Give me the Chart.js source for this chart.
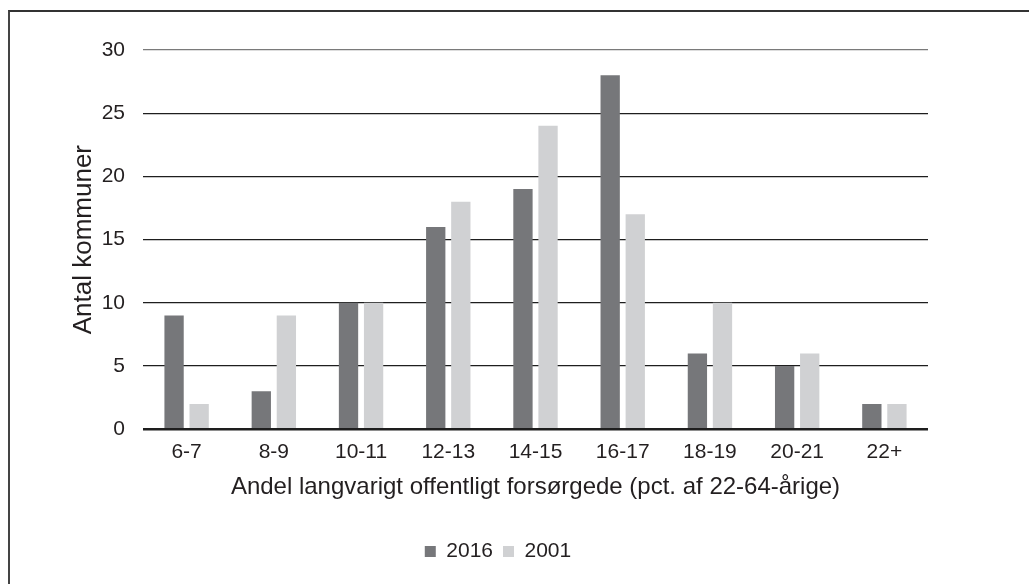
<!DOCTYPE html>
<html>
<head>
<meta charset="utf-8">
<script src="https://cdn.jsdelivr.net/npm/chart.js@4"></script>
<style>
  html, body { margin: 0; padding: 0; background: #fff; overflow: hidden; }
  body { width: 1029px; height: 584px; position: relative; }
  #frame {
    position: absolute; left: 8px; top: 10px; width: 1100px; height: 700px;
    border-left: 2px solid #444; border-top: 2px solid #333;
  }
  #wrap { position: absolute; left: 10px; top: 12px; width: 978px; height: 572px; }
</style>
</head>
<body>
<div id="frame"></div>
<div id="wrap"><canvas id="chart"></canvas></div>
<script>
// Kategorier og værdier
const categories = ['6-7', '8-9', '10-11', '12-13', '14-15', '16-17', '18-19', '20-21', '22+'];
const values2016 = [9, 3, 10, 16, 19, 28, 6, 5, 2];
const values2001 = [2, 9, 10, 18, 24, 17, 10, 6, 2];
const seriesLabels = ['2016', '2001'];

const textColor = '#231f20';
const barColors = ['#76777a', '#d0d1d3'];

Chart.defaults.font.family = '"Liberation Sans", Arial, sans-serif';
Chart.defaults.color = textColor;

new Chart(document.getElementById('chart').getContext('2d'), {
    type: 'bar',
    data: {
        labels: categories,
        datasets: [
            { label: seriesLabels[0], data: values2016, backgroundColor: barColors[0] },
            { label: seriesLabels[1], data: values2001, backgroundColor: barColors[1] }
        ]
    },
    options: {
        responsive: true,
        maintainAspectRatio: false,
        animation: false,
        datasets: {
            bar: { categoryPercentage: 0.575, barPercentage: 0.77 }
        },
        layout: { padding: { left: 58, right: 60, top: 38, bottom: 12 } },
        scales: {
            x: {
                grid: { display: false, drawTicks: false },
                border: { display: false },
                ticks: { padding: 15, font: { size: 21, lineHeight: 0.75 }, color: textColor },
                title: {
                    display: true,
                    text: 'Andel langvarigt offentligt forsørgede (pct. af 22-64-årige)',
                    font: { size: 24, lineHeight: 1 },
                    color: textColor,
                    padding: { top: 0, bottom: 32 }
                }
            },
            y: {
                min: 0,
                max: 30,
                ticks: { stepSize: 5, padding: 18, font: { size: 21 }, color: textColor },
                border: { display: false },
                grid: {
                    drawTicks: false,
                    color: ctx => ctx.tick && ctx.tick.value === 30 ? '#7a7a7a' : '#1e1e1e',
                    lineWidth: ctx => ctx.tick && ctx.tick.value === 0 ? 2.5 : 1.2
                },
                title: {
                    display: true,
                    text: 'Antal kommuner',
                    font: { size: 26 },
                    color: textColor,
                    padding: { top: 0, bottom: 4 }
                },
                // fast bredde så plotområdet starter samme sted som i figuren
                afterFit: scale => { scale.width = 75; }
            }
        },
        plugins: {
            legend: {
                position: 'bottom',
                labels: {
                    boxWidth: 11,
                    boxHeight: 11,
                    padding: 10,
                    font: { size: 21 },
                    color: textColor
                }
            },
            tooltip: { enabled: false }
        }
    }
});
</script>
</body>
</html>
